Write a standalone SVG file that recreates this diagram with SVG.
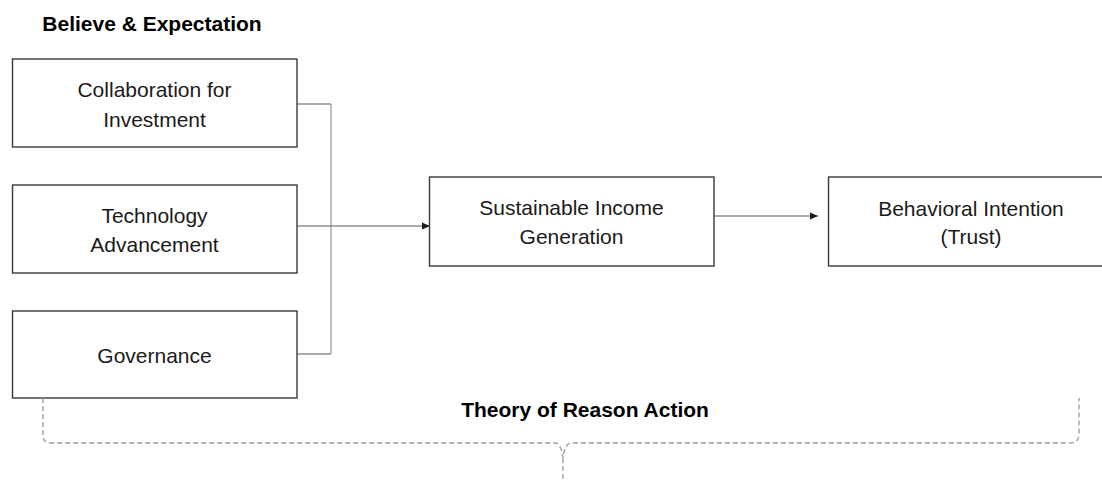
<svg xmlns="http://www.w3.org/2000/svg" width="1102" height="482" viewBox="0 0 1102 482">
  <style>
    .box { fill: #ffffff; stroke: #3a3a3a; stroke-width: 1.4; }
    .lbl { font-family: "Liberation Sans", Arial, sans-serif; font-size: 21px; fill: #1a1a1a; text-anchor: middle; }
    .hdr { font-family: "Liberation Sans", Arial, sans-serif; font-size: 21px; font-weight: bold; fill: #000000; text-anchor: middle; }
    .conn { fill: none; stroke: #5a5a5a; stroke-width: 1.2; }
    .connv { fill: none; stroke: #a6a6a6; stroke-width: 1.4; }
    .brace { fill: none; stroke: #a0a0a0; stroke-width: 1.4; stroke-dasharray: 5 3; }
  </style>
  <defs>
    <marker id="arrow" markerWidth="8" markerHeight="8" refX="8" refY="4" orient="auto" markerUnits="userSpaceOnUse">
      <path d="M0,0.5 L8,4 L0,7.5 Z" fill="#1a1a1a"/>
    </marker>
  </defs>
  <rect width="1102" height="482" fill="#ffffff"/>

  <g id="title-believe">
    <text class="hdr" x="152" y="31">Believe &amp; Expectation</text>
  </g>

  <g id="connectors">
    <path class="conn" d="M297,104 H331"/>
    <path class="conn" d="M297,354 H331"/>
    <path class="connv" d="M331,104 V354"/>
    <path class="conn" d="M297,226 H430" marker-end="url(#arrow)"/>
    <path class="conn" d="M714,216 H818" marker-end="url(#arrow)"/>
  </g>

  <g id="node-collaboration">
    <rect class="box" x="12.5" y="59" width="284.5" height="88"/>
    <text class="lbl" x="154.5" y="97">Collaboration for</text>
    <text class="lbl" x="154.5" y="127">Investment</text>
  </g>

  <g id="node-technology">
    <rect class="box" x="12.5" y="185" width="284.5" height="88"/>
    <text class="lbl" x="154.5" y="223">Technology</text>
    <text class="lbl" x="154.5" y="252">Advancement</text>
  </g>

  <g id="node-governance">
    <rect class="box" x="12.5" y="311" width="284.5" height="87"/>
    <text class="lbl" x="154.5" y="363">Governance</text>
  </g>

  <g id="node-income">
    <rect class="box" x="429.5" y="177" width="284.5" height="89"/>
    <text class="lbl" x="571.5" y="215">Sustainable Income</text>
    <text class="lbl" x="571.5" y="244">Generation</text>
  </g>

  <g id="node-intention">
    <rect class="box" x="828.5" y="177" width="286" height="89"/>
    <text class="lbl" x="971" y="216">Behavioral Intention</text>
    <text class="lbl" x="971" y="244">(Trust)</text>
  </g>

  <g id="brace-theory">
    <path class="brace" d="M43,398 V436 Q43,443 51,443 H555 Q561,443 563,458 Q565,443 571,443 H1071 Q1078,443 1079,435 V398"/>
    <path class="brace" d="M563,458 V482"/>
    <text class="hdr" x="585" y="417">Theory of Reason Action</text>
  </g>
</svg>
